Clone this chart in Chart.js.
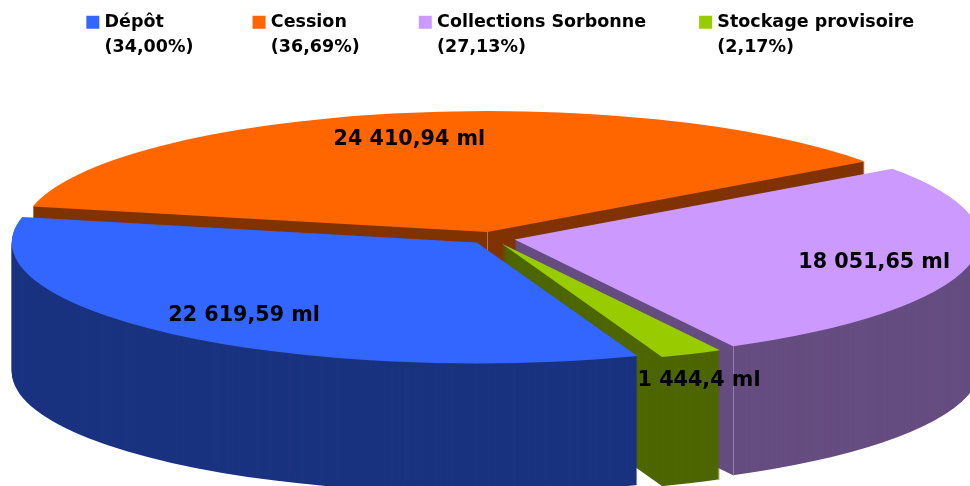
<!DOCTYPE html>
<html>
<head>
<meta charset="utf-8">
<script src="https://cdn.jsdelivr.net/npm/chart.js@4"></script>
<style>
  html, body { margin: 0; padding: 0; background: #fff; }
  #wrap { width: 970px; height: 486px; overflow: hidden; }
</style>
</head>
<body>
<div id="wrap"><canvas id="chart" width="970" height="486"></canvas></div>
<script>
const categories = ["Dépôt", "Cession", "Collections Sorbonne", "Stockage provisoire"];
const shares = ["(34,00%)", "(36,69%)", "(27,13%)", "(2,17%)"];
const values = [22619.59, 24410.94, 18051.65, 1444.4];
const valueLabels = ["22 619,59 ml", "24 410,94 ml", "18 051,65 ml", "1 444,4 ml"];
const topColors = ["#3366FF", "#FF6600", "#CC99FF", "#99CC00"];
const wallColors = ["#1A3380", "#803300", "#664D80", "#4D6600"];

// where the tilted pie sits on the page
const pie = { cx: 492, cy: 238, rx: 465, ry: 121, depth: 129, explode: 0.05 };
// back to front, the blue slice has to cover the green wall
const drawOrder = [1, 2, 3, 0];
// label centres, as a fraction of the radius along each slice's mid angle
const labelReachX = [0.8125, 0.873, 0.844, 1.09];
const labelReachY = [0.849, 0.828, 0.891, 1.287];

const pie3d = {
  id: "pie3d",
  // the negative top padding shrinks the legend's clip box, open it again,
  // and nudge the whole legend right
  afterLayout(chart) {
    chart.legend.bottom = 100;
    chart.legend.left += 6;
    chart.legend.right += 6;
  },
  beforeDatasetsDraw(chart) {
    const ctx = chart.ctx;
    const arcs = chart.getDatasetMeta(0).data;
    const first = arcs[0];
    const R = first.outerRadius;

    function paintArc(arc, dy, color) {
      const mid = (arc.startAngle + arc.endAngle) / 2;
      const saved = arc.options;
      if (color) {
        arc.options = Object.create(saved, {
          backgroundColor: { value: color },
          borderColor: { value: color }
        });
      }
      ctx.save();
      ctx.translate(pie.cx, pie.cy + dy);
      ctx.scale(pie.rx / R, pie.ry / R);
      ctx.translate(-first.x, -first.y);
      ctx.translate(Math.cos(mid) * pie.explode * R, Math.sin(mid) * pie.explode * R);
      arc.draw(ctx);
      ctx.restore();
      arc.options = saved;
    }

    // thin light edge down the wall, r = 0 is the slice tip and r = 1 the rim
    function edgeLine(arc, angle, r, color) {
      const mid = (arc.startAngle + arc.endAngle) / 2;
      const x = pie.cx + (Math.cos(mid) * pie.explode + Math.cos(angle) * r) * pie.rx;
      const y = pie.cy + (Math.sin(mid) * pie.explode + Math.sin(angle) * r) * pie.ry;
      ctx.save();
      ctx.strokeStyle = color;
      ctx.lineWidth = 1;
      ctx.beginPath();
      ctx.moveTo(Math.round(x) + 0.5, y);
      ctx.lineTo(Math.round(x) + 0.5, y + pie.depth);
      ctx.stroke();
      ctx.restore();
    }

    drawOrder.forEach((i) => {
      for (let d = pie.depth; d > 0; d--) {
        paintArc(arcs[i], d, wallColors[i]);
      }
      if (i === 1) edgeLine(arcs[i], arcs[i].endAngle, 0, "#B5784A");
      if (i === 2) edgeLine(arcs[i], arcs[i].endAngle, 1, "#9480A8");
      paintArc(arcs[i], 0);
    });

    ctx.save();
    ctx.fillStyle = "#000";
    ctx.font = "bold 20.7px 'DejaVu Sans'";
    ctx.textAlign = "center";
    ctx.textBaseline = "middle";
    arcs.forEach((arc, i) => {
      const mid = (arc.startAngle + arc.endAngle) / 2;
      const x = pie.cx + Math.cos(mid) * pie.rx * labelReachX[i];
      const y = pie.cy + Math.sin(mid) * pie.ry * labelReachY[i];
      ctx.fillText(valueLabels[i], x, y);
    });
    ctx.restore();
    return false;
  }
};

// legend text on two lines. The legend measures its advance with String(text),
// so give it the wider line instead of both lines joined by a comma
function twoLines(name, share) {
  const lines = [name, share];
  lines.toString = () => (name.length > share.length ? name : share + " ");
  return lines;
}

new Chart(document.getElementById("chart"), {
  type: "pie",
  data: {
    labels: categories,
    datasets: [{
      data: values,
      backgroundColor: topColors,
      borderWidth: 0
    }]
  },
  options: {
    responsive: false,
    animation: false,
    rotation: 159.8,
    events: [],
    layout: { padding: { left: 22, top: -43 } },
    plugins: {
      tooltip: { enabled: false },
      legend: {
        position: "top",
        labels: {
          font: { family: "'DejaVu Sans'", size: 17.5, weight: "bold", lineHeight: 1.43 },
          color: "#000",
          boxWidth: 6,
          boxHeight: 6,
          padding: 56.5,
          generateLabels() {
            return categories.map((name, i) => ({
              text: twoLines(name, shares[i]),
              fillStyle: topColors[i],
              strokeStyle: topColors[i],
              lineWidth: 7,
              index: i
            }));
          }
        }
      }
    }
  },
  plugins: [pie3d]
});
</script>
</body>
</html>
